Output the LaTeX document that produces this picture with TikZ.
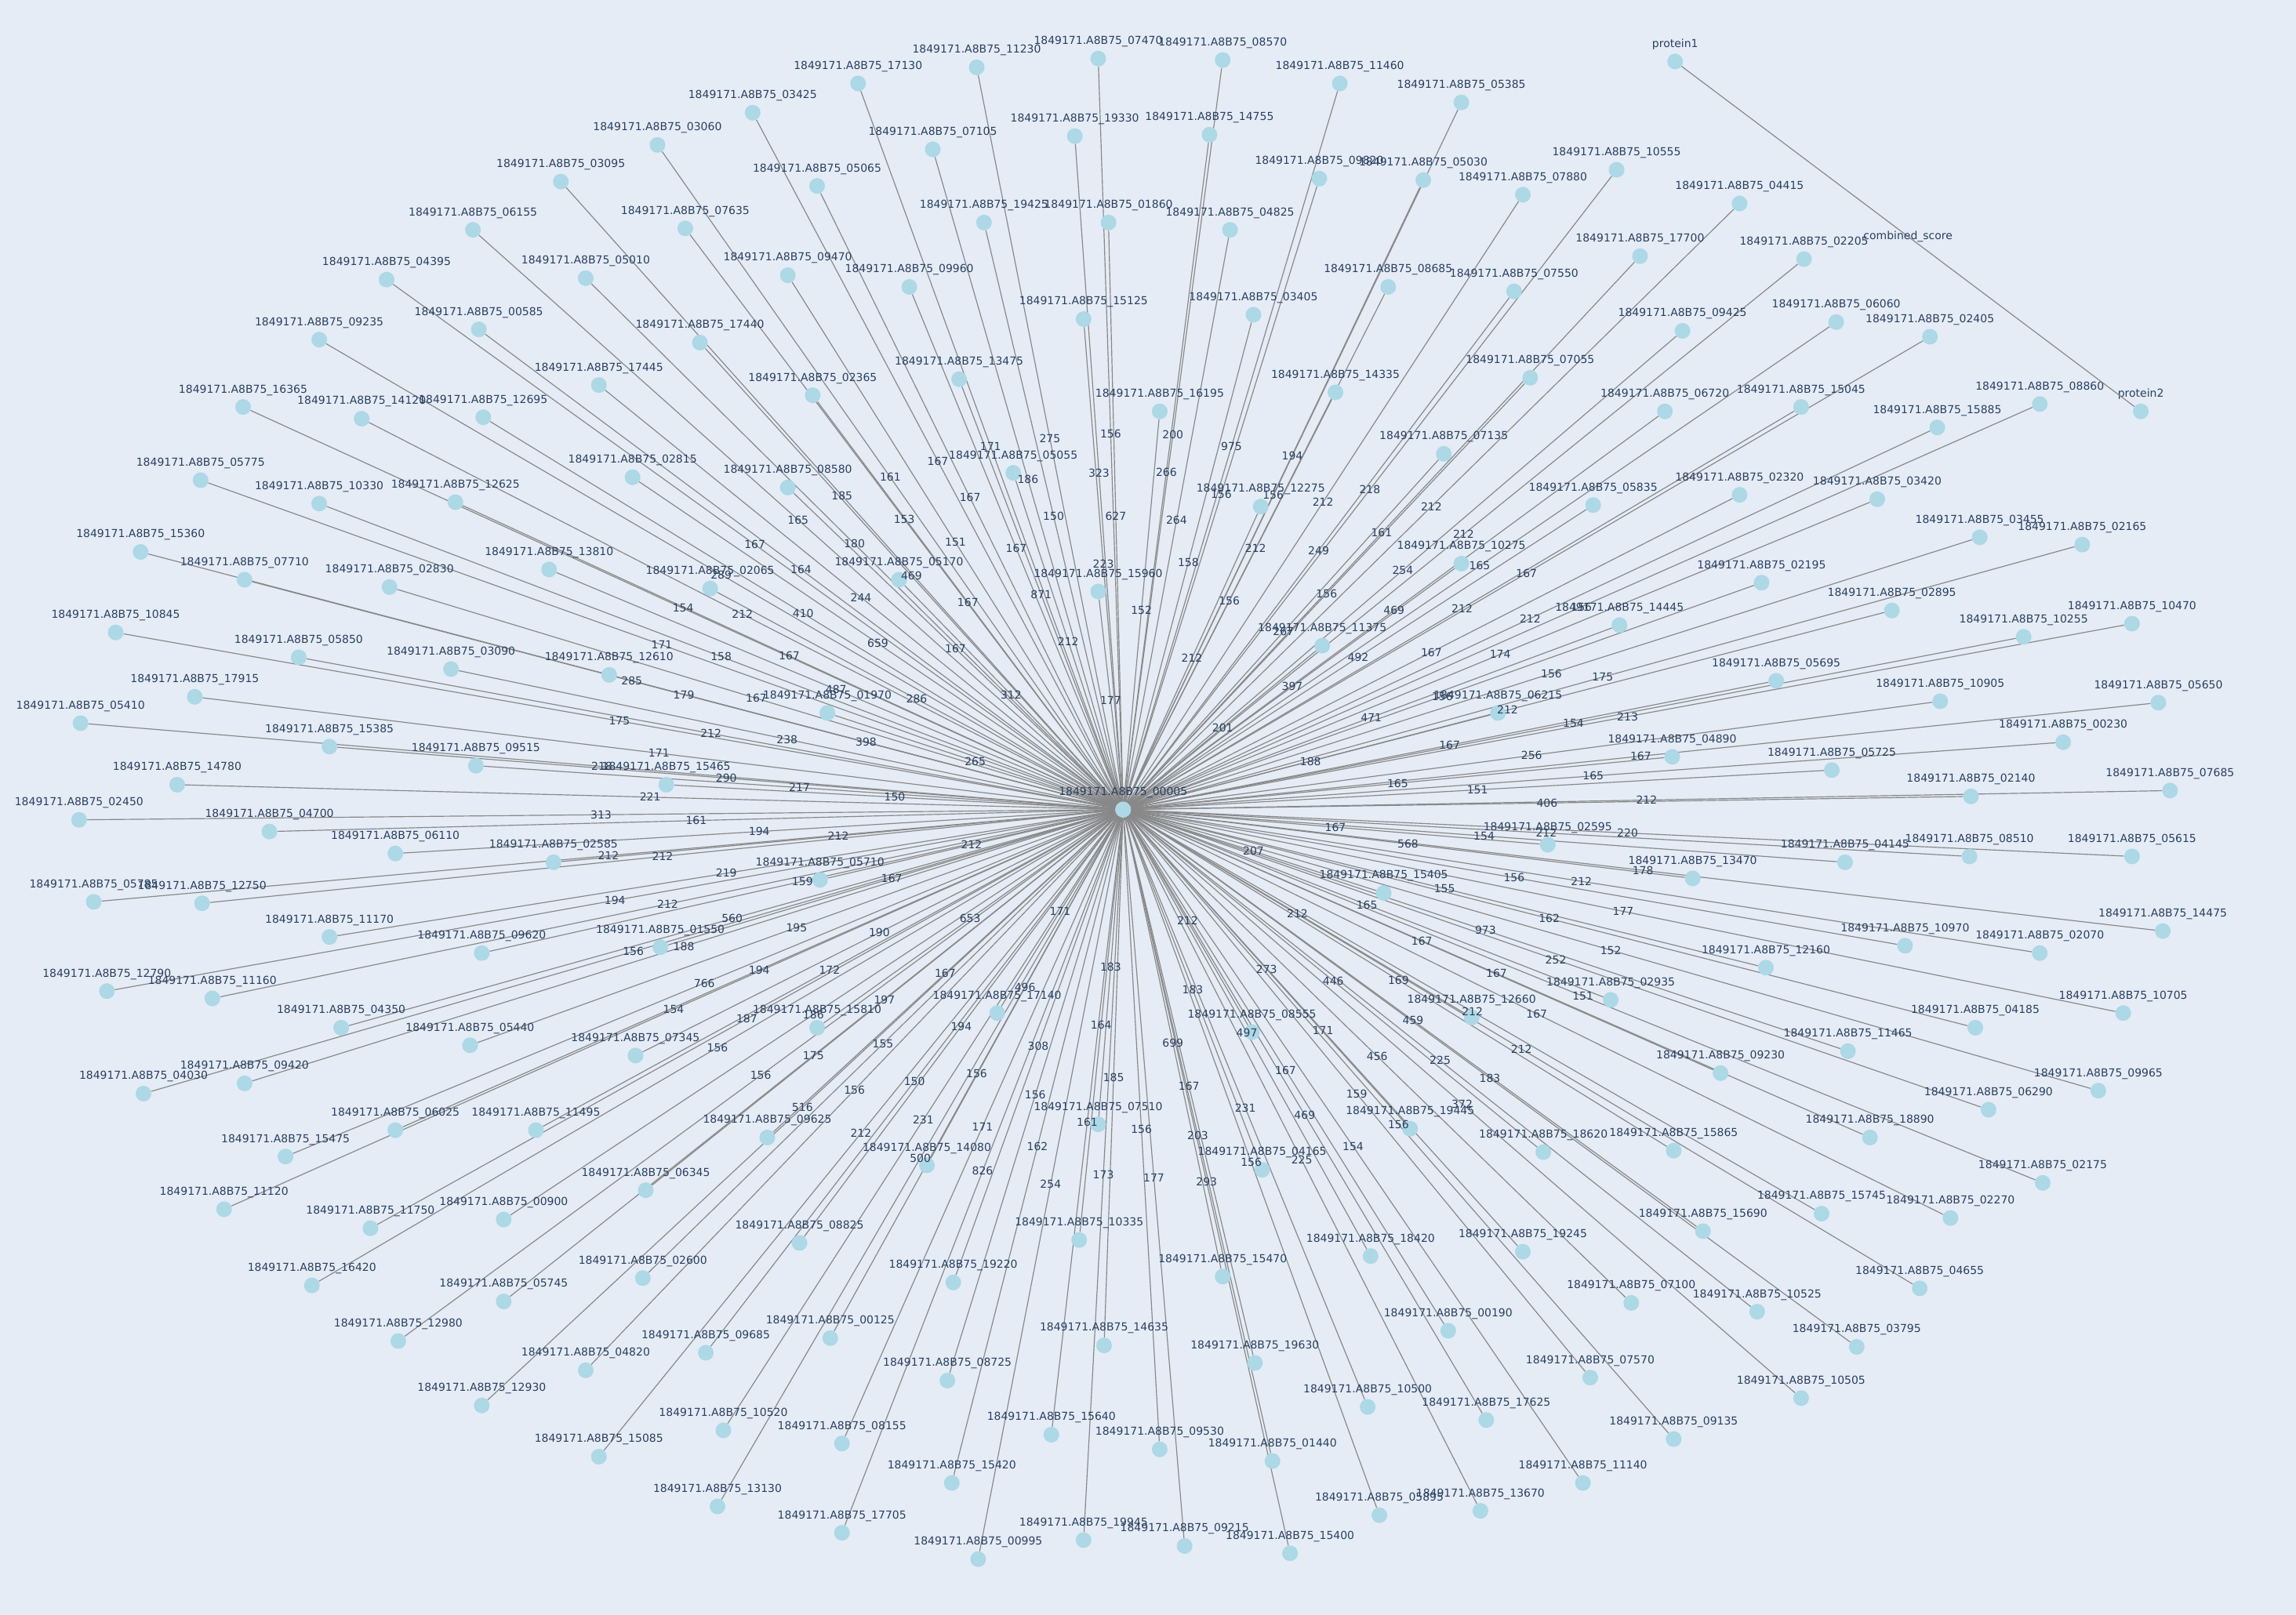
\documentclass[tikz,border=0pt]{standalone}
\usepackage{fontspec}
\setmainfont{DejaVu Sans}
\definecolor{bgc}{HTML}{E5ECF6}
\definecolor{txt}{HTML}{2A3F5F}
\definecolor{nodec}{HTML}{ADD8E6}
\definecolor{edgec}{HTML}{888888}
\pgfdeclarelayer{bg}
\pgfdeclarelayer{edges}
\pgfsetlayers{bg,edges,main}
\tikzset{
  prot/.style={circle,fill=nodec,inner sep=0pt,minimum size=0.536cm},
  lbl/.style={anchor=base,label distance=0.21cm,inner sep=0pt,text=txt,font=\fontsize{10.65}{12}\selectfont},
  wt/.style={inner sep=0pt,text=txt,font=\fontsize{10.65}{12}\selectfont},
  edge/.style={draw=edgec,line width=0.9pt}
}
\def\leaves{750/40/07470/156, 835/41/08570/200, 667/46/11230/275, 586/57/17130/171,
915/57/11460/975, 514/77/03425/167, 998/70/05385/194, 734/93/19330/323,
826/92/14755/266, 637/102/07105/186, 449/99/03060/161, 1104/116/10555/218,
558/127/05065/167, 383/124/03095/185, 901/122/09820/156, 972/123/05030/156,
1040/133/07880/212, 1188/139/04415/212, 757/152/01860/627, 672/152/19425/150,
840/157/04825/264, 323/157/06155/165, 468/156/07635/153, 538/188/09470/151,
400/190/05010/180, 264/191/04395/167, 1120/175/17700/161, 1232/177/02205/212,
621/196/09960/167, 948/196/08685/212, 1034/199/07550/249, 856/215/03405/158,
740/218/15125/223, 1149/226/09425/254, 1254/220/06060/165, 1318/230/02405/167,
327/225/00585/164, 218/232/09235/289, 478/234/17440/469, 655/259/13475/871,
1045/258/07055/156, 912/268/14335/156, 555/270/02365/167, 409/263/17445/244,
166/278/16365/154, 247/286/14120/212, 330/285/12695/410, 1137/281/06720/469,
1230/278/15045/212, 1393/276/08860/156, 792/281/16195/152, 1323/292/15885/212,
986/310/07135/267, 137/328/05775/171, 432/326/02815/659, 692/323/05055/212,
538/333/08580/167, 861/346/12275/212, 218/344/10330/158, 311/343/12625/167,
1088/345/05835/492, 1188/338/02320/167, 1282/341/03420/174, 96/377/15360/285,
375/389/13810/487, 167/396/07710/179, 266/401/02830/167, 485/402/02065/286,
614/396/05170/312, 750/404/15960/177, 998/385/10275/397, 1352/367/03455/156,
1422/372/02165/175, 1203/398/02195/156, 1106/427/14445/471, 903/441/11375/201,
1292/417/02895/212, 1382/435/10255/154, 1456/426/10470/213, 79/432/10845/175,
204/449/05850/212, 308/457/03090/238, 416/461/12610/398, 565/487/01970/265,
1213/465/05695/167, 1023/487/06215/188, 1325/479/10905/256, 1474/480/05650/167,
133/476/17915/171, 55/494/05410/218, 225/510/15385/290, 325/523/09515/217,
455/536/15465/150, 1142/517/04890/165, 1409/507/00230/165, 1251/526/05725/151,
121/536/14780/221, 54/560/02450/313, 184/568/04700/161, 270/583/06110/194,
378/589/02585/212, 1346/544/02140/406, 1482/540/07685/212, 1057/577/02595/167,
1260/589/04145/154, 1345/585/08510/212, 1456/585/05615/220, 1156/600/13470/568,
560/601/05710/212, 64/616/05785/212, 138/617/12750/212, 945/610/15405/207,
1477/636/14475/178, 1301/646/10970/156, 1393/651/02070/212, 225/640/11170/219,
329/651/09620/159, 451/647/01550/167, 1206/661/12160/155, 73/677/12790/194,
145/682/11160/212, 1450/692/10705/177, 1100/683/02935/165, 1349/702/04185/162,
681/692/17140/171, 558/702/15810/653, 233/702/04350/560, 321/714/05440/195,
434/721/07345/190, 1005/695/12660/212, 855/705/08555/212, 1262/718/11465/973,
1175/733/09230/167, 1433/745/09965/152, 1358/758/06290/252, 98/747/04030/156,
167/740/09420/188, 366/772/11495/172, 270/772/06025/194, 524/777/09625/167,
750/768/07510/183, 963/771/19445/273, 1277/777/18890/167, 195/790/15475/766,
633/796/14080/496, 1054/787/18620/446, 1143/786/15865/169, 862/799/04165/183,
1395/808/02175/151, 441/813/06345/197, 153/826/11120/154, 253/839/11750/187,
344/833/00900/186, 1244/829/15745/212, 1332/832/02270/167, 1163/841/15690/459,
737/847/10335/164, 546/849/08825/194, 936/858/18420/497, 1040/855/19245/171,
213/878/16420/156, 439/873/02600/155, 651/876/19220/308, 835/872/15470/699,
1311/880/04655/212, 344/889/05745/175, 1114/890/07100/456, 1200/896/10525/225,
989/909/00190/167, 272/916/12980/156, 482/924/09685/150, 567/914/00125/156,
754/919/14635/185, 1268/920/03795/183, 857/931/19630/167, 400/936/04820/156,
647/943/08725/156, 1086/941/07570/159, 329/960/12930/516, 934/961/10500/231,
1230/955/10505/372, 494/977/10520/231, 1015/970/17625/469, 575/986/08155/171,
718/980/15640/161, 792/990/09530/156, 1143/983/09135/156, 869/998/01440/203,
409/995/15085/212, 1081/1013/11140/154, 650/1013/15420/162, 942/1035/05895/156,
1011/1032/13670/225, 490/1029/13130/500, 575/1047/17705/826, 740/1052/19945/173,
809/1056/09215/177, 881/1061/15400/293, 668/1065/00995/254}
\begin{document}
\begin{tikzpicture}[x=0.05cm,y=-0.05cm]
\begin{pgfonlayer}{bg}
\fill[bgc] (0,0) rectangle (1568,1103);
\end{pgfonlayer}
% hub and its partners
\node[prot,label={[lbl]90:1849171.A8B75\_00005}] (hub) at (767,553) {};
\foreach \x/\y/\id/\w in \leaves {
  \node[prot,label={[lbl]90:1849171.A8B75\_\id}] (n\id) at (\x,\y) {};
}
\begin{pgfonlayer}{edges}
\foreach \x/\y/\id/\w in \leaves
  \draw[edge] (hub) -- (n\id);
\end{pgfonlayer}
\foreach \x/\y/\id/\w in \leaves
  \path (hub) -- (n\id) node[wt,midway] {\w};
% header pair
\node[prot,label={[lbl]90:protein1}] (p1) at (1144,42) {};
\node[prot,label={[lbl]90:protein2}] (p2) at (1462,281) {};
\draw[edge] (p1) -- (p2) node[wt,midway] {combined\_score};
\end{tikzpicture}
\end{document}
